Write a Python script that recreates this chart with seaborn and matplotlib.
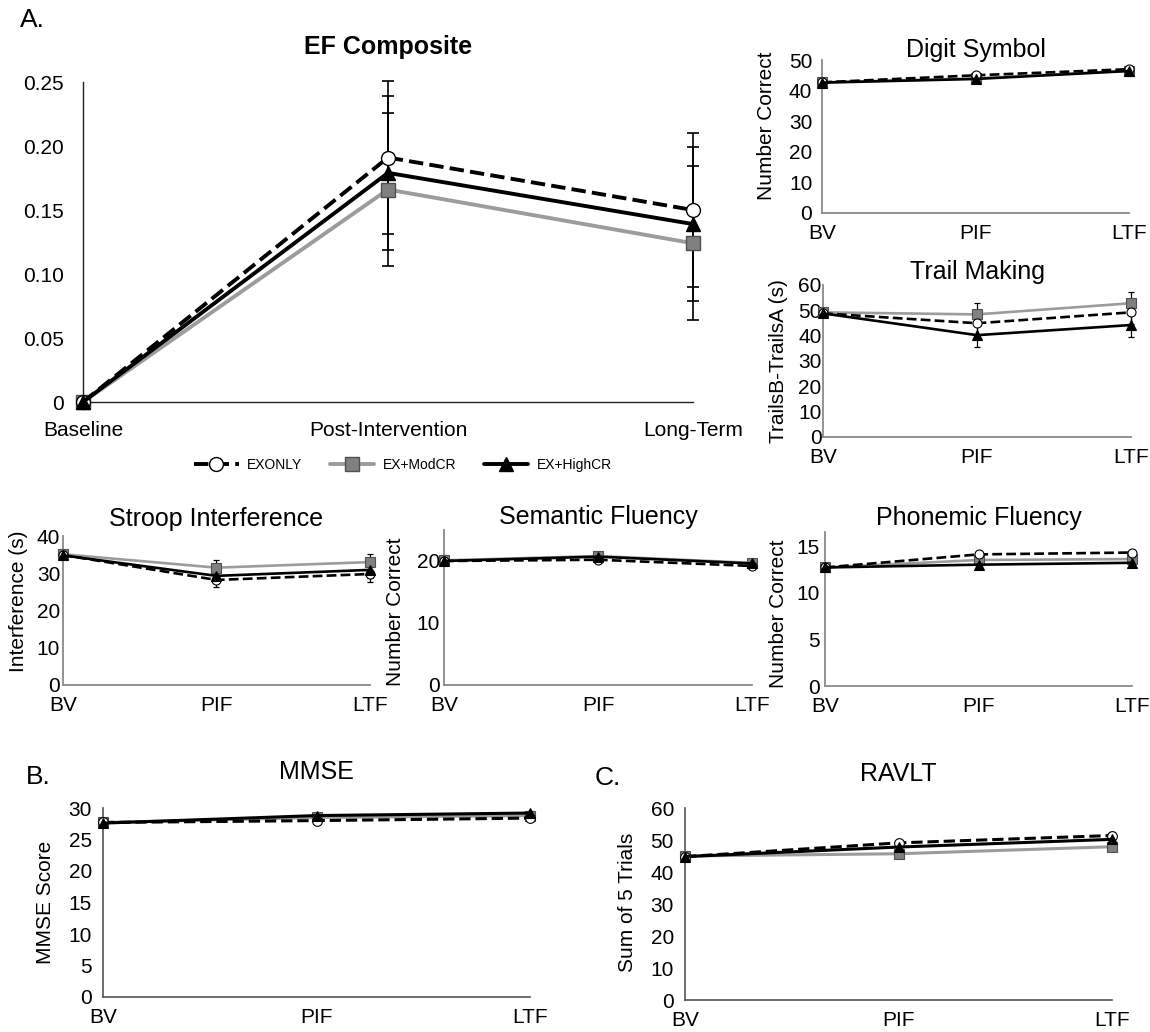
import numpy as np
import pandas as pd
import matplotlib
matplotlib.use("Agg")
import matplotlib.pyplot as plt
import seaborn as sns

# ---------------- data ----------------
groups = ["EXONLY", "EX+ModCR", "EX+HighCR"]
timepoints = ["BV", "PIF", "LTF"]
ef_timepoints = ["Baseline", "Post-Intervention", "Long-Term"]

ef_exonly = [0.0, 0.191, 0.150]
ef_modcr = [0.0, 0.166, 0.124]
ef_highcr = [0.0, 0.179, 0.139]
ef_se = [0.0, 0.060, 0.060]
ef_yticks = [0, 0.05, 0.10, 0.15, 0.20, 0.25]
ef_yticklabels = ["0", "0.05", "0.10", "0.15", "0.20", "0.25"]

digit_exonly = [42.7, 45.0, 47.0]
digit_modcr = [42.7, 44.0, 46.5]
digit_highcr = [42.6, 43.8, 46.4]
digit_se = [0.0, 0.7, 0.7]

trail_exonly = [48.8, 44.9, 49.2]
trail_modcr = [49.2, 48.4, 52.8]
trail_highcr = [48.8, 40.2, 44.2]
trail_se = [0.0, 4.6, 4.6]

stroop_exonly = [34.9, 28.2, 29.8]
stroop_modcr = [35.1, 31.5, 33.0]
stroop_highcr = [34.8, 29.3, 30.9]
stroop_se = [0.0, 2.0, 2.1]

semantic_exonly = [20.0, 20.2, 19.2]
semantic_modcr = [20.1, 20.8, 19.7]
semantic_highcr = [20.0, 20.7, 19.6]
semantic_se = [0.0, 0.6, 0.5]

phonemic_exonly = [12.7, 14.1, 14.3]
phonemic_modcr = [12.7, 13.5, 13.6]
phonemic_highcr = [12.7, 13.0, 13.2]
phonemic_se = [0.0, 0.3, 0.3]

mmse_exonly = [27.7, 28.0, 28.4]
mmse_modcr = [27.7, 28.5, 28.8]
mmse_highcr = [27.6, 28.8, 29.2]
mmse_se = [0.0, 0.3, 0.3]

ravlt_exonly = [44.8, 49.1, 51.4]
ravlt_modcr = [45.0, 45.7, 47.9]
ravlt_highcr = [44.8, 47.8, 50.2]
ravlt_se = [0.0, 1.0, 1.0]

# ---------------- style ----------------
sns.set_theme(style="white")
plt.rcParams["font.family"] = ["Liberation Sans", "DejaVu Sans"]
plt.rcParams["text.color"] = "black"
plt.rcParams["axes.labelcolor"] = "black"
plt.rcParams["xtick.color"] = "black"
plt.rcParams["ytick.color"] = "black"
plt.rcParams["axes.titlecolor"] = "black"
NARROW = ["Liberation Sans Narrow", "Liberation Sans", "DejaVu Sans"]

W, H = 1150, 1032
fig = plt.figure(figsize=(W / 100, H / 100), dpi=100)


def px_axes(l, t, r, b):
    return fig.add_axes([l / W, 1 - b / H, (r - l) / W, (b - t) / H])


styles = {
    "EXONLY": dict(color="black", linestyle="--", marker="o",
                   markerfacecolor="white", markeredgecolor="black"),
    "EX+ModCR": dict(color="#9c9c9c", linestyle="-", marker="s",
                     markerfacecolor="#808080", markeredgecolor="#505050"),
    "EX+HighCR": dict(color="black", linestyle="-", marker="^",
                      markerfacecolor="black", markeredgecolor="black"),
}
zorders = {"EXONLY": 4, "EX+ModCR": 3, "EX+HighCR": 5}


def make_df(ex, mod, high):
    rows = []
    for g, vals in zip(groups, [ex, mod, high]):
        for i, v in enumerate(vals):
            rows.append({"group": g, "x": i, "value": v})
    return pd.DataFrame(rows)


def draw_panel(ax, ex, mod, high, se, lw, ms, mew, ebw, cap):
    df = make_df(ex, mod, high)
    for g in groups:
        sub = df[df["group"] == g]
        xs = sub["x"].to_numpy()
        ys = sub["value"].to_numpy()
        err = np.asarray(se)
        mask = err > 0
        ax.errorbar(xs[mask], ys[mask], yerr=err[mask], fmt="none",
                    ecolor="black", elinewidth=ebw, capsize=cap,
                    capthick=ebw, zorder=2, clip_on=False)
        sns.lineplot(data=sub, x="x", y="value", ax=ax, legend=False,
                     label=g, linewidth=lw, markersize=ms,
                     markeredgewidth=mew, clip_on=False,
                     zorder=zorders[g], **styles[g])
    ax.set_xlim(0, 2)
    ax.set_xlabel("")
    ax.set_ylabel("")


def style_axes(ax, spine_color, spine_w):
    sns.despine(ax=ax)
    for s in ["left", "bottom"]:
        ax.spines[s].set_color(spine_color)
        ax.spines[s].set_linewidth(spine_w)
    ax.tick_params(axis="y", length=0)
    ax.tick_params(axis="x", length=4, width=spine_w, color=spine_color,
                   direction="out")


# ---------------- EF composite ----------------
ax = px_axes(83, 82, 693, 402)
draw_panel(ax, ef_exonly, ef_modcr, ef_highcr, ef_se,
           lw=2.8, ms=10, mew=1.0, ebw=1.2, cap=4)
ax.set_ylim(0, 0.25)
ax.set_yticks(ef_yticks)
ax.set_yticklabels(ef_yticklabels, fontsize=15)
ax.set_xticks([0, 1, 2])
ax.set_xticklabels(ef_timepoints, fontsize=15)
style_axes(ax, "#222222", 1.0)
ax.tick_params(axis="y", pad=14)
ax.tick_params(axis="x", pad=10)
ax.set_title("EF Composite", fontsize=18, fontweight="bold", pad=20)
handles, labels = ax.get_legend_handles_labels()
fig.legend(handles, labels, loc="center", bbox_to_anchor=(403 / W, 1 - 465 / H),
           ncol=3, frameon=False, fontsize=10, handlelength=3.2,
           columnspacing=2.0, handletextpad=0.6)
fig.text(20 / W, 1 - 20 / H, "A.", fontsize=19, va="center", ha="left",
         family=NARROW)

# ---------------- small panels ----------------
small = [
    ("Digit Symbol", (822, 60, 1129, 213),
     (digit_exonly, digit_modcr, digit_highcr, digit_se),
     (0, 50), [0, 10, 20, 30, 40, 50], "Number Correct", (-0.15, 0.57), 2.5, 7),
    ("Trail Making", (823, 285, 1131, 437),
     (trail_exonly, trail_modcr, trail_highcr, trail_se),
     (0, 60), [0, 10, 20, 30, 40, 50, 60], "TrailsB-TrailsA (s)", (-0.114, 0.5), 4.5, 1),
    ("Stroop Interference", (63, 536, 370, 685),
     (stroop_exonly, stroop_modcr, stroop_highcr, stroop_se),
     (0, 40), [0, 10, 20, 30, 40], "Interference (s)", (-0.114, 0.56), 7, 2),
    ("Semantic Fluency", (444, 530, 752, 685),
     (semantic_exonly, semantic_modcr, semantic_highcr, semantic_se),
     (0, 25), [0, 10, 20], "Number Correct", (-0.127, 0.47), 4, 3),
    ("Phonemic Fluency", (825, 532, 1132, 686),
     (phonemic_exonly, phonemic_modcr, phonemic_highcr, phonemic_se),
     (0, 16.5), [0, 5, 10, 15], "Number Correct", (-0.12, 0.47), 5, 4),
]

for title, (l, t, r, b), (ex, mod, high, se), ylim, yt, ylab, lc, tpad, ypad in small:
    ax = px_axes(l, t, r, b)
    draw_panel(ax, ex, mod, high, se, lw=1.9, ms=6.5, mew=0.8, ebw=0.9, cap=2.5)
    ax.set_ylim(*ylim)
    ax.set_yticks(yt)
    ax.set_yticklabels([str(v) for v in yt], fontsize=15)
    ax.set_xticks([0, 1, 2])
    ax.set_xticklabels(timepoints, fontsize=15)
    style_axes(ax, "#8a8a8a", 1.3)
    ax.tick_params(axis="y", pad=ypad)
    ax.tick_params(axis="x", pad=5, length=3)
    ax.set_title(title, fontsize=18, pad=tpad)
    ax.set_ylabel(ylab, fontsize=15)
    ax.yaxis.set_label_coords(*lc)

# ---------------- bottom panels ----------------
bottom = [
    ("MMSE", "B.", (103, 808, 530, 997),
     (mmse_exonly, mmse_modcr, mmse_highcr, mmse_se),
     (0, 30), [0, 5, 10, 15, 20, 25, 30], "MMSE Score", (-0.112, 0.5), 21, (26, 777)),
    ("RAVLT", "C.", (685, 808, 1112, 1000),
     (ravlt_exonly, ravlt_modcr, ravlt_highcr, ravlt_se),
     (0, 60), [0, 10, 20, 30, 40, 50, 60], "Sum of 5 Trials", (-0.112, 0.51), 19.5, (595, 778)),
]

for title, letter, (l, t, r, b), (ex, mod, high, se), ylim, yt, ylab, lc, tpad, (lx, ly) in bottom:
    ax = px_axes(l, t, r, b)
    draw_panel(ax, ex, mod, high, se, lw=2.2, ms=7, mew=0.8, ebw=0.9, cap=2.5)
    ax.set_ylim(*ylim)
    ax.set_yticks(yt)
    ax.set_yticklabels([str(v) for v in yt], fontsize=15, family=NARROW)
    ax.set_xticks([0, 1, 2])
    ax.set_xticklabels(timepoints, fontsize=15, family=NARROW)
    style_axes(ax, "#555555", 1.2)
    ax.tick_params(axis="y", pad=8)
    ax.tick_params(axis="x", pad=4, length=4)
    ax.set_title(title, fontsize=18, pad=tpad, family=NARROW)
    ax.set_ylabel(ylab, fontsize=15)
    ax.yaxis.set_label_coords(*lc)
    fig.text(lx / W, 1 - ly / H, letter, fontsize=19, va="center", ha="left",
             family=NARROW)

fig.savefig("out.png", dpi=100, facecolor="white")
